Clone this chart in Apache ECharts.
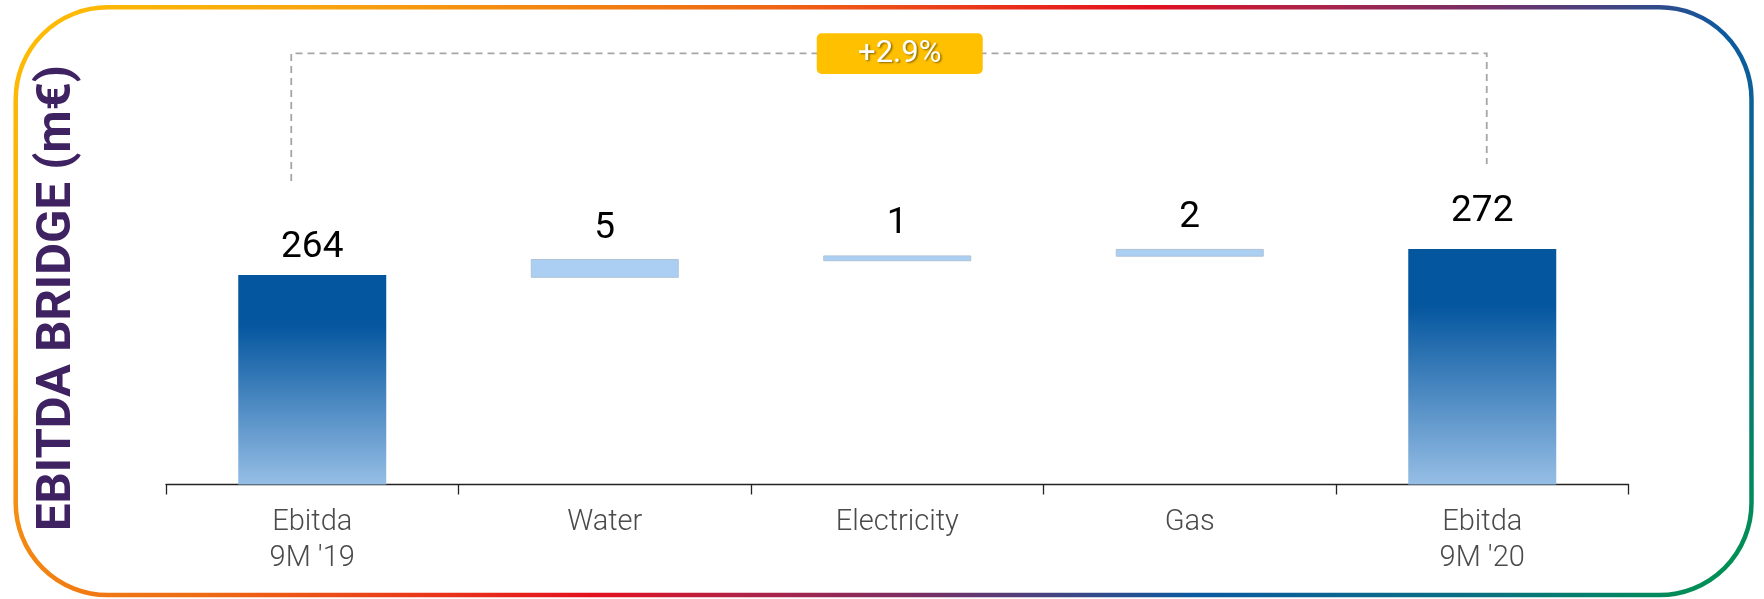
<!DOCTYPE html>
<html>
<head>
<meta charset="utf-8">
<title>EBITDA bridge</title>
<script src="https://cdn.jsdelivr.net/npm/echarts@6/dist/echarts.min.js"></script>
<style>
  html, body { margin: 0; padding: 0; background: #fff; }
  #bridge { width: 1764px; height: 599px; }
</style>
</head>
<body>
<div id="bridge"></div>
<script>
// data
var categories = ["Ebitda\n9M '19", "Water", "Electricity", "Gas", "Ebitda\n9M '20"];
var totals = [264, '-', '-', '-', 272];
var stepFrom = ['-', 263.1, 268.2, 269.6, '-'];   // floating bars, bottom
var stepTo = ['-', 268.9, 270.0, 272.0, '-'];     // floating bars, top
var stepLabels = ['', '5', '1', '2', ''];
var changeLabel = '+2.9%';

var chart = echarts.init(document.getElementById('bridge'));

// label gap above every bar (px)
var labelGap = [9, 11.5, 13, 12.5, 19];

function stepHeights() {
  var out = [];
  for (var i = 0; i < stepFrom.length; i++) {
    out.push(stepFrom[i] === '-' ? '-' : +(stepTo[i] - stepFrom[i]).toFixed(2));
  }
  return out;
}

function withGap(values) {
  return values.map(function (v, i) {
    return { value: v, label: { distance: labelGap[i] } };
  });
}

var totalFill = new echarts.graphic.LinearGradient(0, 0, 0, 1, [
  { offset: 0, color: '#04569F' },
  { offset: 0.24, color: '#04569F' },
  { offset: 1, color: '#96BEE5' }
]);

var frameStroke = new echarts.graphic.LinearGradient(0, 0, 1226, 1153, [
  { offset: 0, color: '#FFC000' },
  { offset: 0.13, color: '#F9A80F' },
  { offset: 0.33, color: '#EE6A14' },
  { offset: 0.36, color: '#EF5A16' },
  { offset: 0.5, color: '#E3101F' },
  { offset: 0.56, color: '#B42145' },
  { offset: 0.64, color: '#7A2E64' },
  { offset: 0.76, color: '#0B5AA0' },
  { offset: 0.88, color: '#0A7082' },
  { offset: 1, color: '#00964B' }
], true);

var option = {
  backgroundColor: '#fff',
  animation: false,
  grid: { left: 166, right: 135.5, top: 157.9, bottom: 114.5 },
  xAxis: {
    type: 'category',
    data: categories,
    axisLine: { lineStyle: { color: '#222', width: 1.3 } },
    axisTick: { show: true, alignWithLabel: false, length: 10, lineStyle: { color: '#222', width: 1.3 } },
    axisLabel: {
      margin: 20,
      color: '#4a4a4a',
      fontFamily: 'Roboto',
      fontWeight: 300,
      fontSize: 29,
      lineHeight: 36
    }
  },
  yAxis: {
    type: 'value',
    min: 199.5,
    max: 300,
    show: false
  },
  series: [
    {
      name: 'base',
      type: 'bar',
      stack: 'bridge',
      barWidth: 148,
      silent: true,
      itemStyle: { color: 'transparent' },
      data: stepFrom
    },
    {
      name: 'total',
      type: 'bar',
      stack: 'bridge',
      barWidth: 148,
      itemStyle: { color: totalFill },
      label: {
        show: true,
        position: 'top',
        color: '#000',
        fontFamily: 'Roboto',
        fontSize: 37
      },
      data: withGap(totals)
    },
    {
      name: 'step',
      type: 'bar',
      stack: 'bridge',
      barWidth: 148,
      itemStyle: { color: '#AACFF3', borderColor: '#AEC2D5', borderWidth: 1 },
      label: {
        show: true,
        position: 'top',
        color: '#000',
        fontFamily: 'Roboto',
        fontSize: 37,
        formatter: function (p) { return stepLabels[p.dataIndex]; }
      },
      data: withGap(stepHeights())
    }
  ]
};

chart.setOption(option);

// bracket + badge hang off the two total bars
var x0 = chart.convertToPixel({ xAxisIndex: 0 }, 0);
var x2 = chart.convertToPixel({ xAxisIndex: 0 }, 2);
var x4 = chart.convertToPixel({ xAxisIndex: 0 }, 4);
var leftX = x0 - 21;
var rightX = x4 + 4.5;
var topY = 53.3;

chart.setOption({
  graphic: [
    {
      type: 'rect',
      silent: true,
      shape: { x: 15.7, y: 7.3, width: 1735.8, height: 587.7, r: 92 },
      style: { fill: 'none', stroke: frameStroke, lineWidth: 4.5 }
    },
    {
      type: 'text',
      x: 58,
      y: 298,
      rotation: Math.PI / 2,
      style: {
        text: 'EBITDA BRIDGE (m€)',
        fill: '#3F2261',
        font: 'bold 49px Roboto',
        align: 'center',
        verticalAlign: 'middle'
      }
    },
    {
      type: 'polyline',
      silent: true,
      shape: { points: [[leftX, 181], [leftX, topY], [rightX, topY], [rightX, 164]] },
      style: { fill: 'none', stroke: '#A6A6A6', lineWidth: 1.8, lineDash: [7, 5] }
    },
    {
      type: 'rect',
      shape: { x: x2 + 2.5 - 83, y: 33.3, width: 166, height: 40.7, r: 5 },
      style: { fill: '#FFC000' },
      z: 10
    },
    {
      type: 'text',
      x: x2 + 2.5,
      y: 54,
      z: 11,
      style: {
        text: changeLabel,
        fill: '#fff',
        font: '31px Roboto',
        align: 'center',
        verticalAlign: 'middle',
        textShadowColor: 'rgba(0,0,0,0.45)',
        textShadowBlur: 2,
        textShadowOffsetX: 1.5,
        textShadowOffsetY: 1.5
      }
    }
  ]
});
</script>
</body>
</html>
